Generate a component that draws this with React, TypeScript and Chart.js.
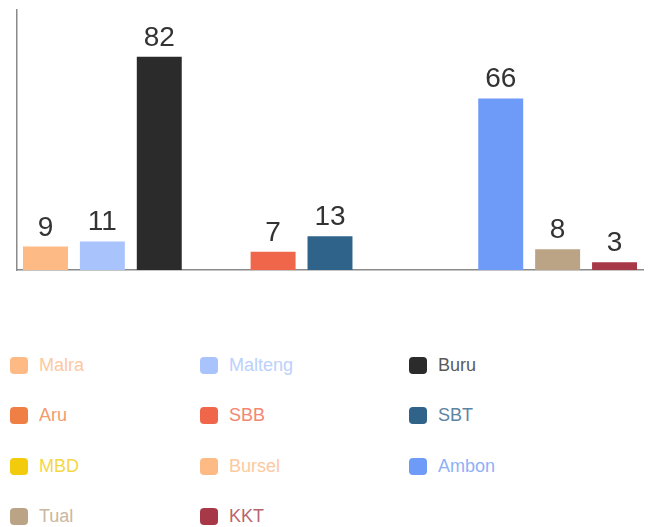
import React, { useEffect, useRef } from "react";
import { Chart, registerables } from "chart.js";

Chart.register(...registerables);

const regions = ["Malra", "Malteng", "Buru", "Aru", "SBB", "SBT", "MBD", "Bursel", "Ambon", "Tual", "KKT"];
const values = [9, 11, 82, 0, 7, 13, 0, 0, 66, 8, 3];
const colors = [
  "#FDBA85",
  "#A9C4FD",
  "#2B2B2B",
  "#F07F45",
  "#F0664A",
  "#2F6389",
  "#F2CC0C",
  "#FDBA85",
  "#6F9BF8",
  "#BBA386",
  "#A73847",
];

const valueLabels = {
  id: "valueLabels",
  afterDatasetsDraw(chart: any) {
    const ctx = chart.ctx;
    const meta = chart.getDatasetMeta(0);
    ctx.save();
    ctx.font = "28px 'Liberation Sans', Arial, sans-serif";
    ctx.fillStyle = "#333333";
    ctx.textAlign = "center";
    ctx.textBaseline = "alphabetic";
    meta.data.forEach((bar: any, i: number) => {
      const v = values[i];
      if (!v) return;
      ctx.fillText(String(v), bar.x, bar.y - 11);
    });
    ctx.restore();
  },
};

export default function App() {
  const ref = useRef<HTMLCanvasElement | null>(null);
  useEffect(() => {
    if (!ref.current) return;
    const chart = new Chart(ref.current, {
      type: "bar",
      data: {
        labels: regions,
        datasets: [
          {
            data: values,
            backgroundColor: colors,
            borderWidth: 0,
            barPercentage: 0.79,
            categoryPercentage: 1,
          },
        ],
      },
      options: {
        animation: false,
        responsive: false,
        maintainAspectRatio: false,
        layout: { padding: { left: 9, top: 10, right: 5, bottom: 22 } },
        plugins: { legend: { display: false }, tooltip: { enabled: false } },
        scales: {
          x: {
            ticks: { display: false },
            grid: { display: false },
            border: { display: true, color: "#8a8a8a", width: 1.5 },
          },
          y: {
            min: 0,
            max: 100,
            ticks: { display: false },
            grid: { display: false },
            border: { display: true, color: "#8a8a8a", width: 1.5 },
          },
        },
      },
      plugins: [valueLabels],
    });
    return () => chart.destroy();
  }, []);

  const cols = [10, 200, 409];
  const rows = [365, 415, 466, 516];

  return (
    <div
      style={{
        position: "fixed",
        left: 0,
        top: 0,
        width: 648,
        height: 527,
        background: "#ffffff",
        fontFamily: "'Liberation Sans', Arial, sans-serif",
      }}
    >
      <canvas ref={ref} width={648} height={300} style={{ position: "absolute", left: 0, top: 0 }} />
      {regions.map((name, i) => {
        const c = i % 3;
        const r = Math.floor(i / 3);
        return (
          <div
            key={name}
            style={{
              position: "absolute",
              left: cols[c],
              top: rows[r] - 10,
              height: 20,
              display: "flex",
              alignItems: "center",
            }}
          >
            <div
              style={{
                width: 18,
                height: 17,
                borderRadius: 4,
                background: colors[i],
              }}
            />
            <span
              style={{
                marginLeft: 11,
                fontSize: 18,
                color: colors[i],
                opacity: 0.78,
                whiteSpace: "nowrap",
              }}
            >
              {name}
            </span>
          </div>
        );
      })}
    </div>
  );
}
